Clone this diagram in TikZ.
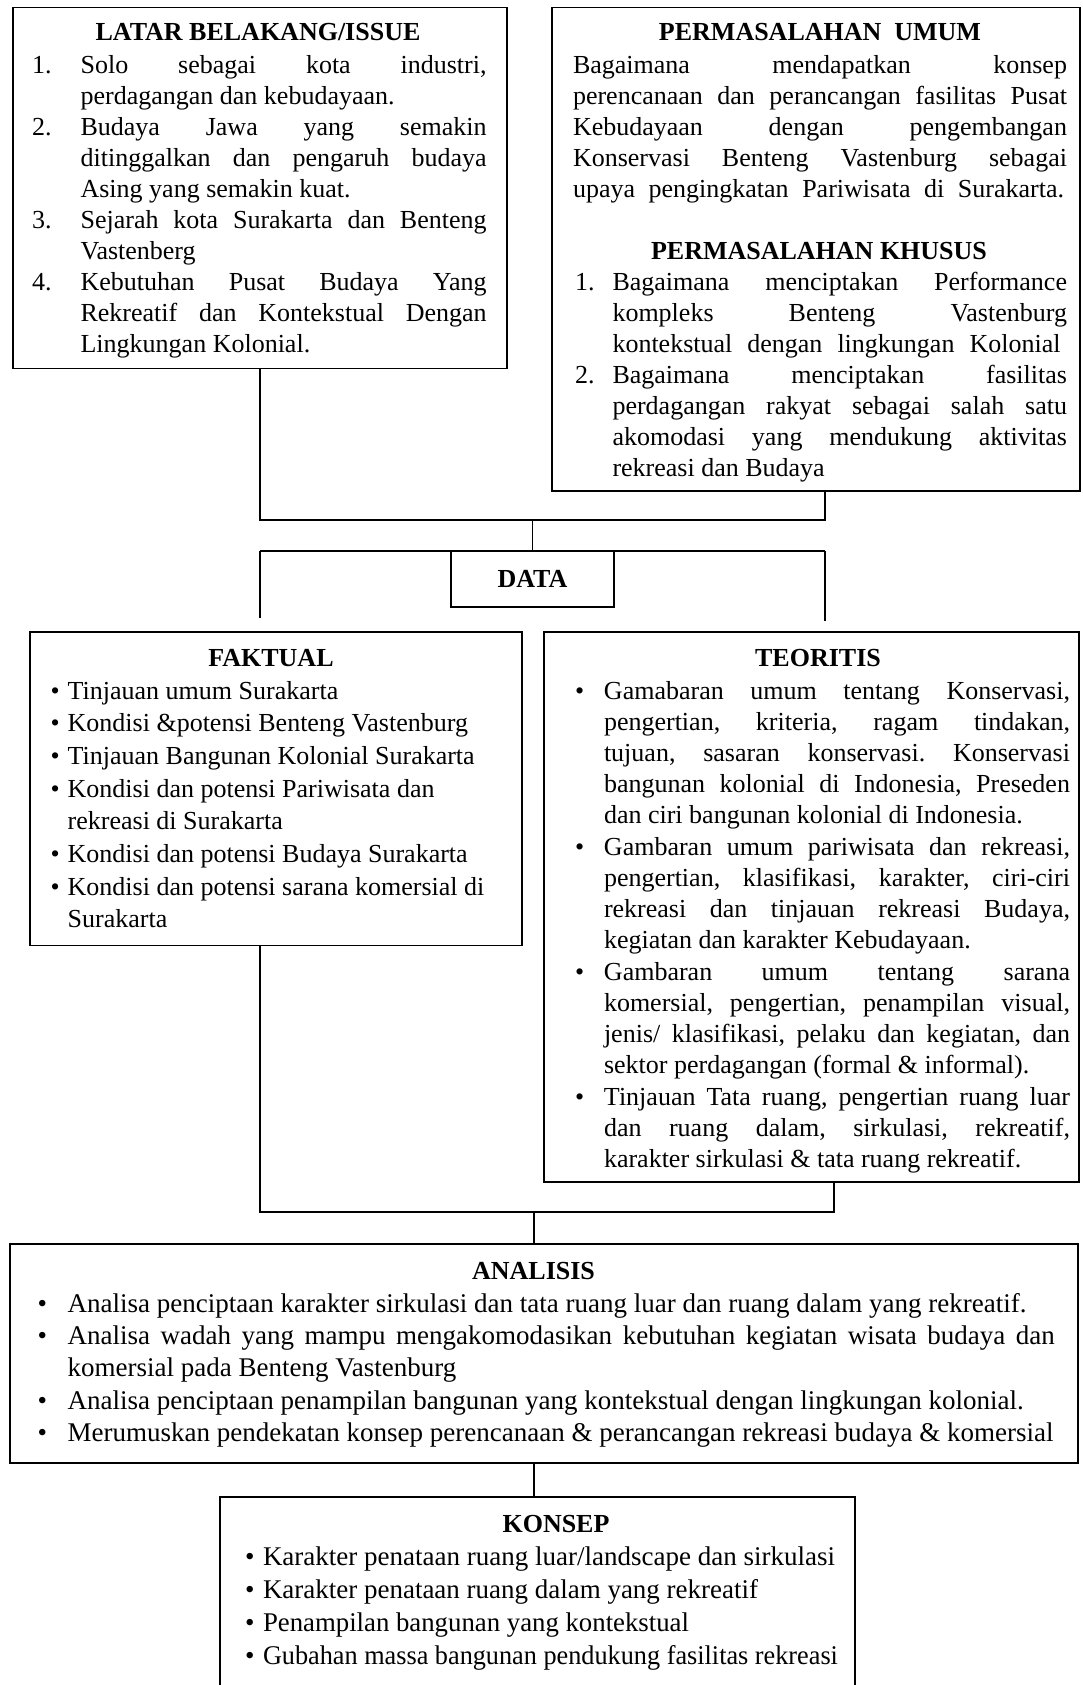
\documentclass[tikz,border=0pt]{standalone}
\usepackage{fontspec}
\setmainfont{Liberation Serif}
\usepackage{graphicx}
\usetikzlibrary{calc}
\frenchspacing
\newsavebox\lnbox
\newcommand\JL[2]{\sbox\lnbox{#2}\ifdim\wd\lnbox>#1\relax\resizebox{#1}{\ht\lnbox}{\usebox\lnbox}\else\makebox[#1][s]{#2}\fi}
\newcommand\RL[2]{\sbox\lnbox{#2}\resizebox{#1}{\ht\lnbox}{\usebox\lnbox}}
\newcommand\Lab[2]{\makebox[#1][l]{#2}}
\tikzset{
  box/.style={draw, line width=1.5pt, inner sep=0pt, outer sep=0pt, anchor=north west},
  conn/.style={line width=1.4pt},
  txt/.style={inner sep=0pt, outer sep=0pt, anchor=base west, font=\fontsize{26}{31}\selectfont},
  txtb/.style={txt, font=\fontsize{27}{32}\selectfont},
  ttl/.style={inner sep=0pt, outer sep=0pt, anchor=base, font=\fontsize{26}{31}\selectfont\bfseries},
}
\newcommand\Ln[5][txt]{\node[#1] (#2) at (#3,#4) {#5};}
\begin{document}
\begin{tikzpicture}[x=1pt,y=-1pt]
\fill[white] (0,0) rectangle (1082,1685);
\useasboundingbox (0,0) rectangle (1082,1685);

% boxes
\node[box, minimum width=494pt, minimum height=361pt] (latar) at (13,7.5) {};
\node[box, minimum width=528pt, minimum height=483.5pt] (perm) at (552,7.5) {};
\node[box, minimum width=163pt, minimum height=56pt] (data) at (451,551) {};
\node[box, minimum width=492pt, minimum height=313.5pt] (fakt) at (30,632) {};
\node[box, minimum width=535pt, minimum height=550pt] (teor) at (544,632) {};
\node[box, minimum width=1068pt, minimum height=219pt] (anal) at (10,1244) {};
\node[box, minimum width=635pt, minimum height=260pt] (kons) at (220,1497) {};

% connectors
\coordinate (jA) at (260,520);
\coordinate (jB) at (825,520);
\coordinate (jC) at (260,551);
\coordinate (jD) at (825,551);
\coordinate (jE) at (260,1212);
\coordinate (jF) at (834,1212);
\coordinate (jM) at (534,1212);
\draw[conn] (latar.south -| jA) -- (jA) -- (jB) -- (perm.south -| jB);
\draw[conn] (data.north |- jA) -- (data.north);
\draw[conn] (jC) -- (jD);
\draw[conn, shorten >=14pt] (jC) -- (jC |- fakt.north);
\draw[conn, shorten >=11pt] (jD) -- (jD |- teor.north);
\draw[conn] (fakt.south -| jE) -- (jE) -- (jF) -- (teor.south -| jF);
\draw[conn] (jM) -- (jM |- anal.north);
\draw[conn] (anal.south -| jM) -- (jM |- kons.north);

% LATAR
\node[ttl] (latar-t) at (258,41) {LATAR BELAKANG/ISSUE};
\Ln{la1}{32}{73.5}{\Lab{48.6pt}{1.}\JL{406pt}{Solo sebagai kota industri,}}
\Ln{la2}{80.6}{104.6}{perdagangan dan kebudayaan.}
\Ln{la3}{32}{135.6}{\Lab{48.6pt}{2.}\JL{406pt}{Budaya Jawa yang semakin}}
\Ln{la4}{80.6}{166.7}{\JL{406pt}{ditinggalkan dan pengaruh budaya}}
\Ln{la5}{80.6}{197.7}{Asing yang semakin kuat.}
\Ln{la6}{32}{228.8}{\Lab{48.6pt}{3.}\JL{406pt}{Sejarah kota Surakarta dan Benteng}}
\Ln{la7}{80.6}{259.8}{Vastenberg}
\Ln{la8}{32}{290.9}{\Lab{48.6pt}{4.}\JL{406pt}{Kebutuhan Pusat Budaya Yang}}
\Ln{la9}{80.6}{321.9}{\JL{406pt}{Rekreatif dan Kontekstual Dengan}}
\Ln{la10}{80.6}{352.9}{Lingkungan Kolonial.}

% PERMASALAHAN
\node[ttl] (pu-t) at (820,41) {PERMASALAHAN\ \ UMUM};
\Ln{pu1}{573}{73.5}{\JL{494pt}{Bagaimana mendapatkan konsep}}
\Ln{pu2}{573}{104.5}{\JL{494pt}{perencanaan dan perancangan fasilitas Pusat}}
\Ln{pu3}{573}{135.5}{\JL{494pt}{Kebudayaan dengan pengembangan}}
\Ln{pu4}{573}{166.5}{\JL{494pt}{Konservasi Benteng Vastenburg sebagai}}
\Ln{pu5}{573}{197.5}{\JL{491pt}{upaya pengingkatan Pariwisata di Surakarta.}}
\node[ttl] (pk-t) at (819,260) {PERMASALAHAN KHUSUS};
\Ln{pk1}{575}{290.5}{\Lab{37.5pt}{1.}\JL{454.5pt}{Bagaimana menciptakan Performance}}
\Ln{pk2}{612.5}{321.5}{\JL{454.5pt}{kompleks Benteng Vastenburg}}
\Ln{pk3}{612.5}{352.5}{\JL{448pt}{kontekstual dengan lingkungan Kolonial}}
\Ln{pk4}{575}{383.5}{\Lab{37.5pt}{2.}\JL{454.5pt}{Bagaimana menciptakan fasilitas}}
\Ln{pk5}{612.5}{414.5}{\JL{454.5pt}{perdagangan rakyat sebagai salah satu}}
\Ln{pk6}{612.5}{445.5}{\JL{454.5pt}{akomodasi yang mendukung aktivitas}}
\Ln{pk7}{612.5}{476.5}{rekreasi dan Budaya}

% DATA
\node[ttl, anchor=center] (data-t) at (data.center) {DATA};

% FAKTUAL
\node[ttl] (fa-t) at (271,666) {FAKTUAL};
\Ln{fa1}{50.5}{699}{\Lab{17.2pt}{\textbullet}Tinjauan umum Surakarta}
\Ln{fa2}{50.5}{731.7}{\Lab{17.2pt}{\textbullet}Kondisi \&potensi Benteng Vastenburg}
\Ln{fa3}{50.5}{764.4}{\Lab{17.2pt}{\textbullet}Tinjauan Bangunan Kolonial Surakarta}
\Ln{fa4}{50.5}{797.1}{\Lab{17.2pt}{\textbullet}Kondisi dan potensi Pariwisata dan}
\Ln{fa5}{67.7}{829.8}{rekreasi di Surakarta}
\Ln{fa6}{50.5}{862.5}{\Lab{17.2pt}{\textbullet}Kondisi dan potensi Budaya Surakarta}
\Ln{fa7}{50.5}{895.2}{\Lab{17.2pt}{\textbullet}Kondisi dan potensi sarana komersial di}
\Ln{fa8}{67.7}{927.9}{Surakarta}

% TEORITIS
\node[ttl] (te-t) at (818,666) {TEORITIS};
\Ln{te1}{575}{699}{\Lab{29pt}{\textbullet}\JL{466pt}{Gamabaran umum tentang Konservasi,}}
\Ln{te2}{604}{730.2}{\JL{466pt}{pengertian, kriteria, ragam tindakan,}}
\Ln{te3}{604}{761.5}{\JL{466pt}{tujuan, sasaran konservasi. Konservasi}}
\Ln{te4}{604}{792.7}{\JL{466pt}{bangunan kolonial di Indonesia, Preseden}}
\Ln{te5}{604}{823.9}{dan ciri bangunan kolonial di Indonesia.}
\Ln{te6}{575}{855.2}{\Lab{29pt}{\textbullet}\JL{466pt}{Gambaran umum pariwisata dan rekreasi,}}
\Ln{te7}{604}{886.4}{\JL{466pt}{pengertian, klasifikasi, karakter, ciri-ciri}}
\Ln{te8}{604}{917.6}{\JL{466pt}{rekreasi dan tinjauan rekreasi Budaya,}}
\Ln{te9}{604}{948.8}{kegiatan dan karakter Kebudayaan.}
\Ln{te10}{575}{980.1}{\Lab{29pt}{\textbullet}\JL{466pt}{Gambaran umum tentang sarana}}
\Ln{te11}{604}{1011.3}{\JL{466pt}{komersial, pengertian, penampilan visual,}}
\Ln{te12}{604}{1042.5}{\JL{466pt}{jenis/ klasifikasi, pelaku dan kegiatan, dan}}
\Ln{te13}{604}{1073.8}{sektor perdagangan (formal \& informal).}
\Ln{te14}{575}{1105}{\Lab{29pt}{\textbullet}\JL{466pt}{Tinjauan Tata ruang, pengertian ruang luar}}
\Ln{te15}{604}{1136.2}{\JL{466pt}{dan ruang dalam, sirkulasi, rekreatif,}}
\Ln{te16}{604}{1167.4}{karakter sirkulasi \& tata ruang rekreatif.}

% ANALISIS
\node[ttl] (an-t) at (533.5,1279) {ANALISIS};
\Ln[txtb]{an1}{37.6}{1312.4}{\Lab{30.1pt}{\textbullet}Analisa penciptaan karakter sirkulasi dan tata ruang luar dan ruang dalam yang rekreatif.}
\Ln[txtb]{an2}{37.6}{1344.7}{\Lab{30.1pt}{\textbullet}\JL{987pt}{Analisa wadah yang mampu mengakomodasikan kebutuhan kegiatan wisata budaya dan}}
\Ln[txtb]{an3}{67.7}{1376.9}{komersial pada Benteng Vastenburg}
\Ln[txtb]{an4}{37.6}{1409.2}{\Lab{30.1pt}{\textbullet}Analisa penciptaan penampilan bangunan yang kontekstual dengan lingkungan kolonial.}
\Ln[txtb]{an5}{37.6}{1441.4}{\Lab{30.1pt}{\textbullet}Merumuskan pendekatan konsep perencanaan \& perancangan rekreasi budaya \& komersial}

% KONSEP
\node[ttl] (ko-t) at (556,1532) {KONSEP};
\Ln[txtb]{ko1}{245}{1565}{\Lab{18pt}{\textbullet}\RL{572pt}{Karakter penataan ruang luar/landscape dan sirkulasi}}
\Ln[txtb]{ko2}{245}{1598}{\Lab{18pt}{\textbullet}\RL{495pt}{Karakter penataan ruang dalam yang rekreatif}}
\Ln[txtb]{ko3}{245}{1631}{\Lab{18pt}{\textbullet}\RL{426pt}{Penampilan bangunan yang kontekstual}}
\Ln[txtb]{ko4}{245}{1664}{\Lab{18pt}{\textbullet}\RL{575pt}{Gubahan massa bangunan pendukung fasilitas rekreasi}}
\end{tikzpicture}
\end{document}
